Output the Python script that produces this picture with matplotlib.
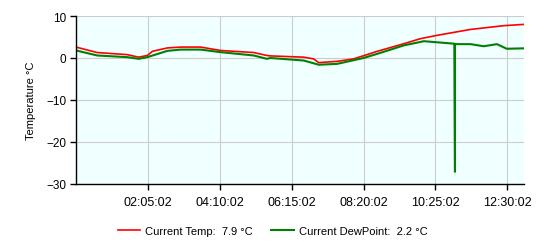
import matplotlib
matplotlib.use("Agg")
import matplotlib.pyplot as plt

# minutes since 00:00:02
temp_minutes = [0, 37, 89, 109, 124, 133, 159, 182, 217, 251, 309, 332, 338, 396, 413,
                422, 454, 483, 506, 524, 570, 599, 628, 686, 744, 779]
temp_values = [2.6, 1.3, 0.8, 0.2, 0.6, 1.6, 2.4, 2.6, 2.6, 1.8, 1.3, 0.6, 0.5, 0.2, -0.2,
               -1.1, -0.8, -0.2, 0.8, 1.6, 3.4, 4.6, 5.4, 6.8, 7.7, 8.0]

dew_minutes = [0, 37, 89, 109, 124, 159, 182, 217, 251, 309, 332, 338, 396, 422, 454,
               500, 524, 570, 605, 658, 659, 659, 660, 686, 709, 732, 749, 779]
dew_values = [1.8, 0.6, 0.2, -0.2, 0.2, 1.7, 2.0, 2.0, 1.4, 0.6, -0.2, 0.0, -0.6, -1.6, -1.4,
              0.0, 1.0, 3.0, 4.0, 3.4, -27.1, 3.3, 3.3, 3.3, 2.8, 3.3, 2.2, 2.3]

x_ticks = [125, 250, 375, 500, 625, 750]
x_labels = ["02:05:02", "04:10:02", "06:15:02", "08:20:02", "10:25:02", "12:30:02"]
y_ticks = [-30, -20, -10, 0, 10]

plt.rcParams["font.family"] = ["Liberation Sans", "DejaVu Sans"]
plt.rcParams["font.size"] = 8

fig = plt.figure(figsize=(5.56, 2.53), dpi=100)
ax = fig.add_axes([0.1367, 0.2688, 0.8057, 0.664])
ax.set_facecolor("#F0FFFF")

ax.plot(temp_minutes, temp_values, color="#FF0000", lw=1.2, label="Current Temp:  7.9 °C")
ax.plot(dew_minutes, dew_values, color="#008000", lw=1.5, label="Current DewPoint:  2.2 °C")

ax.set_xlim(0, 779)
ax.set_ylim(-30, 10)
ax.set_xticks(x_ticks)
ax.set_xticklabels(x_labels)
ax.set_yticks(y_ticks)
ax.grid(True, color="#CCCCCC", lw=0.8)
ax.set_axisbelow(True)

for side in ("top", "right"):
    ax.spines[side].set_visible(False)
for side in ("left", "bottom"):
    ax.spines[side].set_color("black")
    ax.spines[side].set_linewidth(1)
ax.tick_params(direction="out", length=4, width=1, color="black", pad=3)
ax.tick_params(axis="y", labelsize=8.5)
ax.tick_params(axis="x", labelsize=9, pad=5)

ax.set_ylabel("Temperature °C", fontsize=8, labelpad=7)

fig.legend(loc="center", bbox_to_anchor=(0.49, 0.083), ncol=2, frameon=False,
           fontsize=8, handlelength=2.0, columnspacing=1.7, handletextpad=0.45)

fig.savefig("out.png", dpi=100)
